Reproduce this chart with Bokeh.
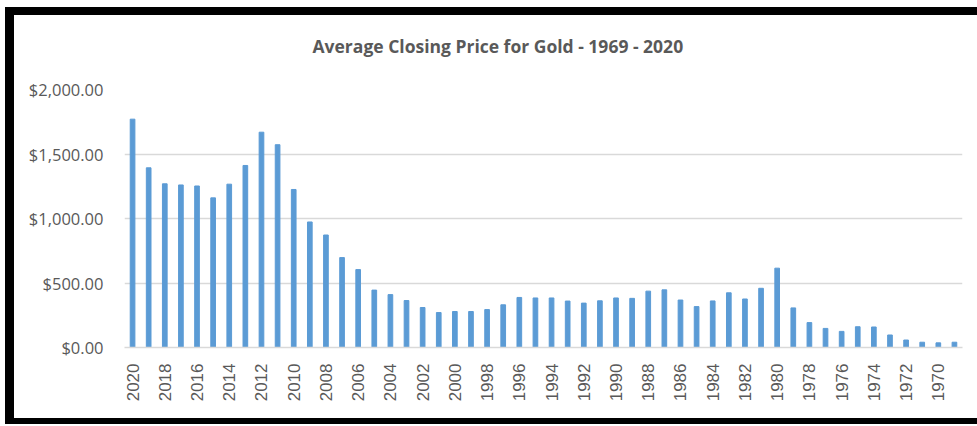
import math
from bokeh.plotting import figure
from bokeh.layouts import column
from bokeh.models import ColumnDataSource, Range1d, NumeralTickFormatter, FixedTicker, BasicTickFormatter, Title
from bokeh.embed import file_html
from bokeh.resources import INLINE

title_text = "Average Closing Price for Gold - 1969 - 2020"
years = list(range(2020, 1968, -1))
prices = [1770, 1393, 1269, 1260, 1252, 1160, 1266, 1411, 1669, 1572,
          1225, 973, 872, 697, 604, 445, 410, 364, 310, 271,
          279, 279, 294, 331, 388, 384, 384, 360, 344, 362,
          384, 381, 437, 447, 368, 317, 361, 424, 376, 459,
          615, 307, 193, 148, 125, 161, 159, 97, 58, 41,
          36, 41]
x_tick_years = list(range(2020, 1968, -2))
y_ticks = [0, 500, 1000, 1500, 2000]

src = ColumnDataSource(dict(year=years, price=prices))

p = figure(width=963, height=403,
           x_range=Range1d(max(years) + 0.5, min(years) - 0.5),
           y_range=Range1d(0, 2000),
           output_backend="svg", toolbar_location=None,
           min_border_left=110, min_border_right=15, min_border_top=74, min_border_bottom=71)
p.vbar(x="year", top="price", width=0.29, source=src, color="#5b9bd5")

p.title = None
# empty spacer between the title and the plot area
p.add_layout(Title(text=" ", text_font_size="10px", standoff=14), "above")
p.add_layout(Title(text=title_text, text_font="Open Sans", text_font_size="17.5px",
                   text_font_style="bold", text_color="#595959",
                   align="left", offset=188, standoff=10), "above")

p.outline_line_color = None
p.background_fill_color = "white"
p.border_fill_color = "white"

p.xgrid.grid_line_color = None
p.ygrid.grid_line_color = "#d9d9d9"
p.ygrid.grid_line_width = 1.5

p.yaxis.ticker = FixedTicker(ticks=y_ticks)
p.yaxis.formatter = NumeralTickFormatter(format="$0,0.00")
p.yaxis.axis_line_color = None
p.yaxis.major_tick_line_color = None
p.yaxis.major_tick_out = 0
p.yaxis.major_tick_in = 0
p.yaxis.minor_tick_line_color = None
p.yaxis.major_label_standoff = 21
p.yaxis.major_label_text_font = "Open Sans"
p.yaxis.major_label_text_font_size = "16.5px"
p.yaxis.major_label_text_color = "#595959"

p.xaxis.ticker = FixedTicker(ticks=x_tick_years)
p.xaxis.formatter = BasicTickFormatter(use_scientific=False)
p.xaxis.axis_line_color = "#d9d9d9"
p.xaxis.axis_line_width = 1.5
p.xaxis.major_tick_line_color = None
p.xaxis.major_tick_out = 0
p.xaxis.major_tick_in = 0
p.xaxis.minor_tick_line_color = None
p.xaxis.major_label_orientation = math.pi / 2
p.xaxis.major_label_standoff = 16
p.xaxis.major_label_text_font = "Liberation Sans"
p.xaxis.major_label_text_font_size = "17px"
p.xaxis.major_label_text_color = "#595959"

layout = column(p, margin=(7, 0, 0, 5),
                styles={"background-color": "white",
                        "border-left": "9px solid black",
                        "border-top": "8px solid black",
                        "border-bottom": "6px solid black",
                        "border-right": "none"})

open("out.html", "w").write(file_html(layout, INLINE))
